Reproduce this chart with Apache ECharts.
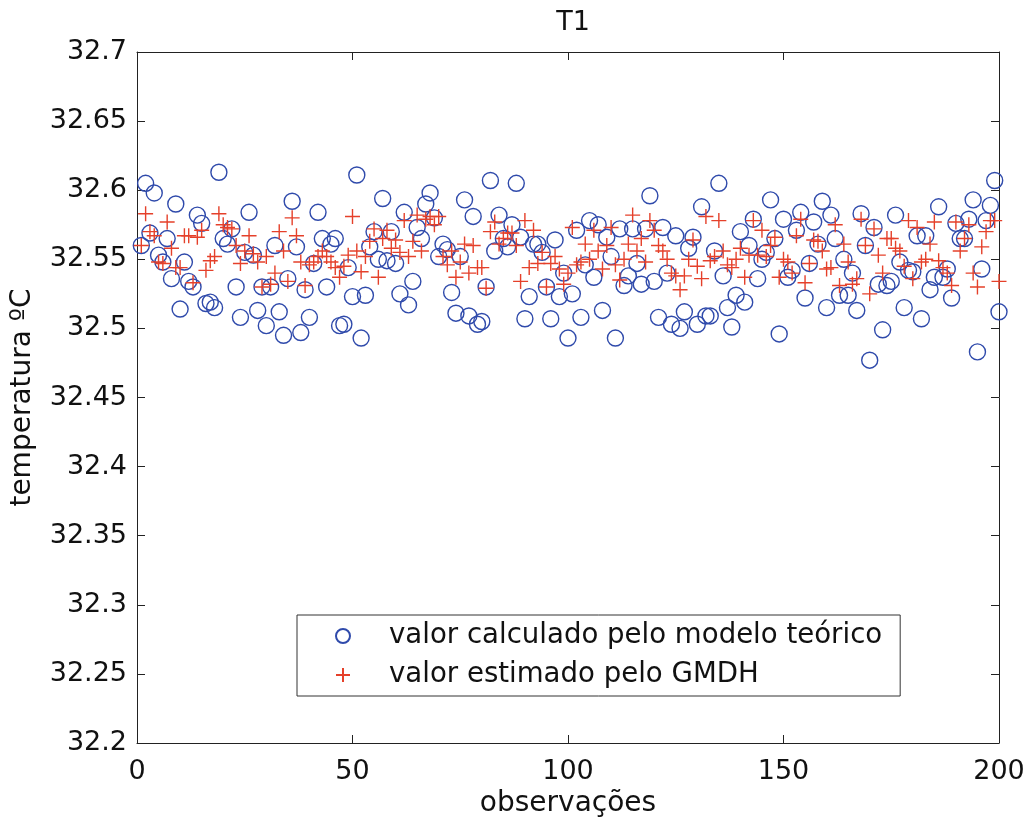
<!DOCTYPE html>
<html>
<head>
<meta charset="utf-8">
<script src="https://cdn.jsdelivr.net/npm/echarts@6/dist/echarts.min.js"></script>
<style>
html,body{margin:0;padding:0;background:#fff;}
#chart{width:1031px;height:831px;}
</style>
</head>
<body>
<div id="chart"></div>
<script>
// valor calculado pelo modelo teórico (circles), observations 1..200
const valorCalculado = [
32.560, 32.605, 32.569, 32.598, 32.553, 32.548, 32.565, 32.536, 32.590, 32.514,
32.548, 32.534, 32.530, 32.582, 32.576, 32.518, 32.519, 32.515, 32.613, 32.565,
32.561, 32.572, 32.530, 32.508, 32.555, 32.584, 32.553, 32.513, 32.530,
32.502, 32.530, 32.560, 32.512, 32.495, 32.536, 32.592, 32.559, 32.497, 32.528,
32.508, 32.547, 32.584, 32.565, 32.530, 32.561, 32.565, 32.502, 32.503, 32.544,
32.523, 32.611, 32.493, 32.524, 32.559, 32.570, 32.550, 32.594,
32.549, 32.570, 32.547, 32.525, 32.584, 32.517, 32.534, 32.573, 32.565, 32.590,
32.598, 32.580, 32.552, 32.561, 32.557, 32.526, 32.511, 32.552, 32.593, 32.509,
32.581, 32.503, 32.505, 32.530, 32.607, 32.556, 32.582, 32.565, 32.559,
32.575, 32.605, 32.566, 32.507, 32.523, 32.561, 32.561, 32.555, 32.530, 32.507,
32.564, 32.523, 32.540, 32.493, 32.525, 32.571, 32.508, 32.546, 32.578, 32.537,
32.575, 32.513, 32.566, 32.552, 32.493, 32.572, 32.531, 32.538,
32.572, 32.547, 32.532, 32.572, 32.596, 32.534, 32.508, 32.573, 32.540, 32.503,
32.567, 32.500, 32.512, 32.558, 32.566, 32.503, 32.588, 32.509, 32.509, 32.556,
32.605, 32.538, 32.515, 32.501, 32.524, 32.570, 32.519, 32.560, 32.579, 32.536,
32.550, 32.555, 32.593, 32.565, 32.496, 32.579, 32.537, 32.542, 32.571, 32.584,
32.522, 32.547, 32.577, 32.561, 32.592, 32.515, 32.582, 32.565, 32.524, 32.550,
32.524, 32.540, 32.513, 32.583, 32.560, 32.477, 32.573, 32.532, 32.499, 32.531,
32.534, 32.582, 32.548, 32.515, 32.542, 32.541, 32.567, 32.507, 32.567, 32.528,
32.537, 32.588, 32.537, 32.543, 32.522, 32.576, 32.565, 32.565, 32.579, 32.593,
32.483, 32.543, 32.578, 32.589, 32.607, 32.512
];

// valor estimado pelo GMDH (plus markers), observations 1..200
const valorGMDH = [
32.560, 32.583, 32.570, 32.567, 32.548, 32.547, 32.577, 32.558, 32.544, 32.544,
32.567, 32.567, 32.533, 32.566, 32.571, 32.542, 32.549, 32.552, 32.583, 32.575,
32.573, 32.572, 32.560, 32.547, 32.556, 32.567, 32.554, 32.548, 32.530,
32.552, 32.532, 32.540, 32.570, 32.556, 32.534, 32.580, 32.567, 32.548, 32.531,
32.546, 32.548, 32.552, 32.556, 32.552, 32.548, 32.544, 32.537, 32.545, 32.553,
32.581, 32.556, 32.541, 32.552, 32.563, 32.572, 32.537, 32.565,
32.571, 32.558, 32.564, 32.555, 32.578, 32.552, 32.563, 32.582, 32.556, 32.579,
32.581, 32.575, 32.581, 32.552, 32.546, 32.556, 32.537, 32.548, 32.561, 32.540,
32.560, 32.544, 32.544, 32.529, 32.570, 32.577, 32.561, 32.565, 32.569,
32.569, 32.560, 32.534, 32.578, 32.544, 32.571, 32.547, 32.555, 32.530, 32.547,
32.552, 32.543, 32.532, 32.540, 32.573, 32.546, 32.548, 32.561, 32.550, 32.571,
32.556, 32.543, 32.560, 32.573, 32.546, 32.535, 32.550, 32.561, 32.582,
32.556, 32.565, 32.548, 32.578, 32.571, 32.560, 32.556, 32.550, 32.540, 32.538,
32.528, 32.538, 32.550, 32.564, 32.545, 32.536, 32.581, 32.549, 32.552, 32.578,
32.556, 32.546, 32.544, 32.550, 32.558, 32.537, 32.553, 32.578, 32.553,
32.571, 32.552, 32.560, 32.566, 32.537, 32.550, 32.548, 32.540, 32.567, 32.579,
32.533, 32.547, 32.564, 32.563, 32.556, 32.543, 32.544, 32.575, 32.531, 32.561,
32.548, 32.532, 32.536, 32.579, 32.560, 32.525, 32.572, 32.553, 32.540, 32.565,
32.565, 32.558, 32.556, 32.545, 32.578, 32.536, 32.573, 32.548, 32.550, 32.561,
32.577, 32.549, 32.544, 32.540, 32.531, 32.577, 32.556, 32.565, 32.575, 32.540,
32.530, 32.559, 32.570, 32.578, 32.578, 32.534
];

const yTickLabels = ['32.2','32.25','32.3','32.35','32.4','32.45','32.5','32.55','32.6','32.65','32.7'];
const xTickLabels = ['0','50','100','150','200'];

const seriesNames = ['valor calculado pelo modelo teórico', 'valor estimado pelo GMDH'];
const titleText = 'T1';
const xName = 'observações';
const yName = 'temperatura ºC';

const FONT = 'DejaVu Sans';
const BLUE = '#2f4aab';
const RED = '#e5402a';
const AXIS = '#222';
const PLUS = 'path://M0,-10L0,10M-10,0L10,0';

const chart = echarts.init(document.getElementById('chart'), null, {renderer: 'canvas'});

function toPoints(arr){ return arr.map((v, i) => [i + 1, v]); }

const axisCommon = {
  axisLine: {show: true, onZero: false, lineStyle: {color: AXIS, width: 1}},
  axisTick: {show: true, inside: true, length: 8, lineStyle: {color: AXIS, width: 1}},
  splitLine: {show: false}
};

const option = {
  backgroundColor: '#ffffff',
  animation: false,
  textStyle: {fontFamily: FONT},
  title: {
    text: titleText,
    left: 568, top: 4,
    textAlign: 'center',
    textStyle: {fontFamily: FONT, fontSize: 27, fontWeight: 'normal', color: '#111'}
  },
  grid: {left: 137, right: 32, top: 52, bottom: 88, containLabel: false},
  legend: {
    orient: 'vertical',
    left: 297, top: 615,
    backgroundColor: '#ffffff',
    borderColor: '#333',
    borderWidth: 1,
    borderRadius: 0,
    padding: [6, 18, 6, 38],
    itemGap: 9,
    itemWidth: 14,
    itemHeight: 14,
    selectedMode: false,
    textStyle: {fontFamily: FONT, fontSize: 27.6, color: '#111', lineHeight: 30, padding: [0, 0, 0, 34]},
    data: seriesNames
  },
  xAxis: [
    Object.assign({
      type: 'value', position: 'bottom', min: 0, max: 200, interval: 50,
      name: xName, nameLocation: 'middle', nameGap: 46,
      nameTextStyle: {fontFamily: FONT, fontSize: 28, color: '#111'},
      axisLabel: {show: true, margin: 15, fontFamily: FONT, fontSize: 27, color: '#111',
        formatter: (v, i) => xTickLabels[i]}
    }, axisCommon),
    Object.assign({
      type: 'value', position: 'top', min: 0, max: 200, interval: 50,
      axisLabel: {show: false}
    }, axisCommon)
  ],
  yAxis: [
    Object.assign({
      type: 'value', position: 'left', min: 32.2, max: 32.7, interval: 0.05,
      name: yName, nameLocation: 'middle', nameGap: 100,
      nameTextStyle: {fontFamily: FONT, fontSize: 28, color: '#111'},
      axisLabel: {show: true, margin: 10, fontFamily: FONT, fontSize: 27, color: '#111',
        formatter: (v, i) => yTickLabels[i]}
    }, axisCommon),
    Object.assign({
      type: 'value', position: 'right', min: 32.2, max: 32.7, interval: 0.05,
      axisLabel: {show: false}
    }, axisCommon)
  ],
  series: [
    {
      name: seriesNames[0],
      type: 'scatter',
      xAxisIndex: 0, yAxisIndex: 0,
      symbol: 'circle',
      symbolSize: 16,
      itemStyle: {color: 'rgba(0,0,0,0)', borderColor: BLUE, borderWidth: 1.4, opacity: 1},
      emphasis: {disabled: true},
      data: toPoints(valorCalculado),
      z: 2
    },
    {
      name: seriesNames[1],
      type: 'scatter',
      xAxisIndex: 0, yAxisIndex: 0,
      symbol: PLUS,
      symbolSize: 15,
      itemStyle: {color: 'rgba(0,0,0,0)', borderColor: RED, borderWidth: 1.4, opacity: 1},
      emphasis: {disabled: true},
      data: toPoints(valorGMDH),
      z: 3
    }
  ]
};

chart.setOption(option);
</script>
</body>
</html>
